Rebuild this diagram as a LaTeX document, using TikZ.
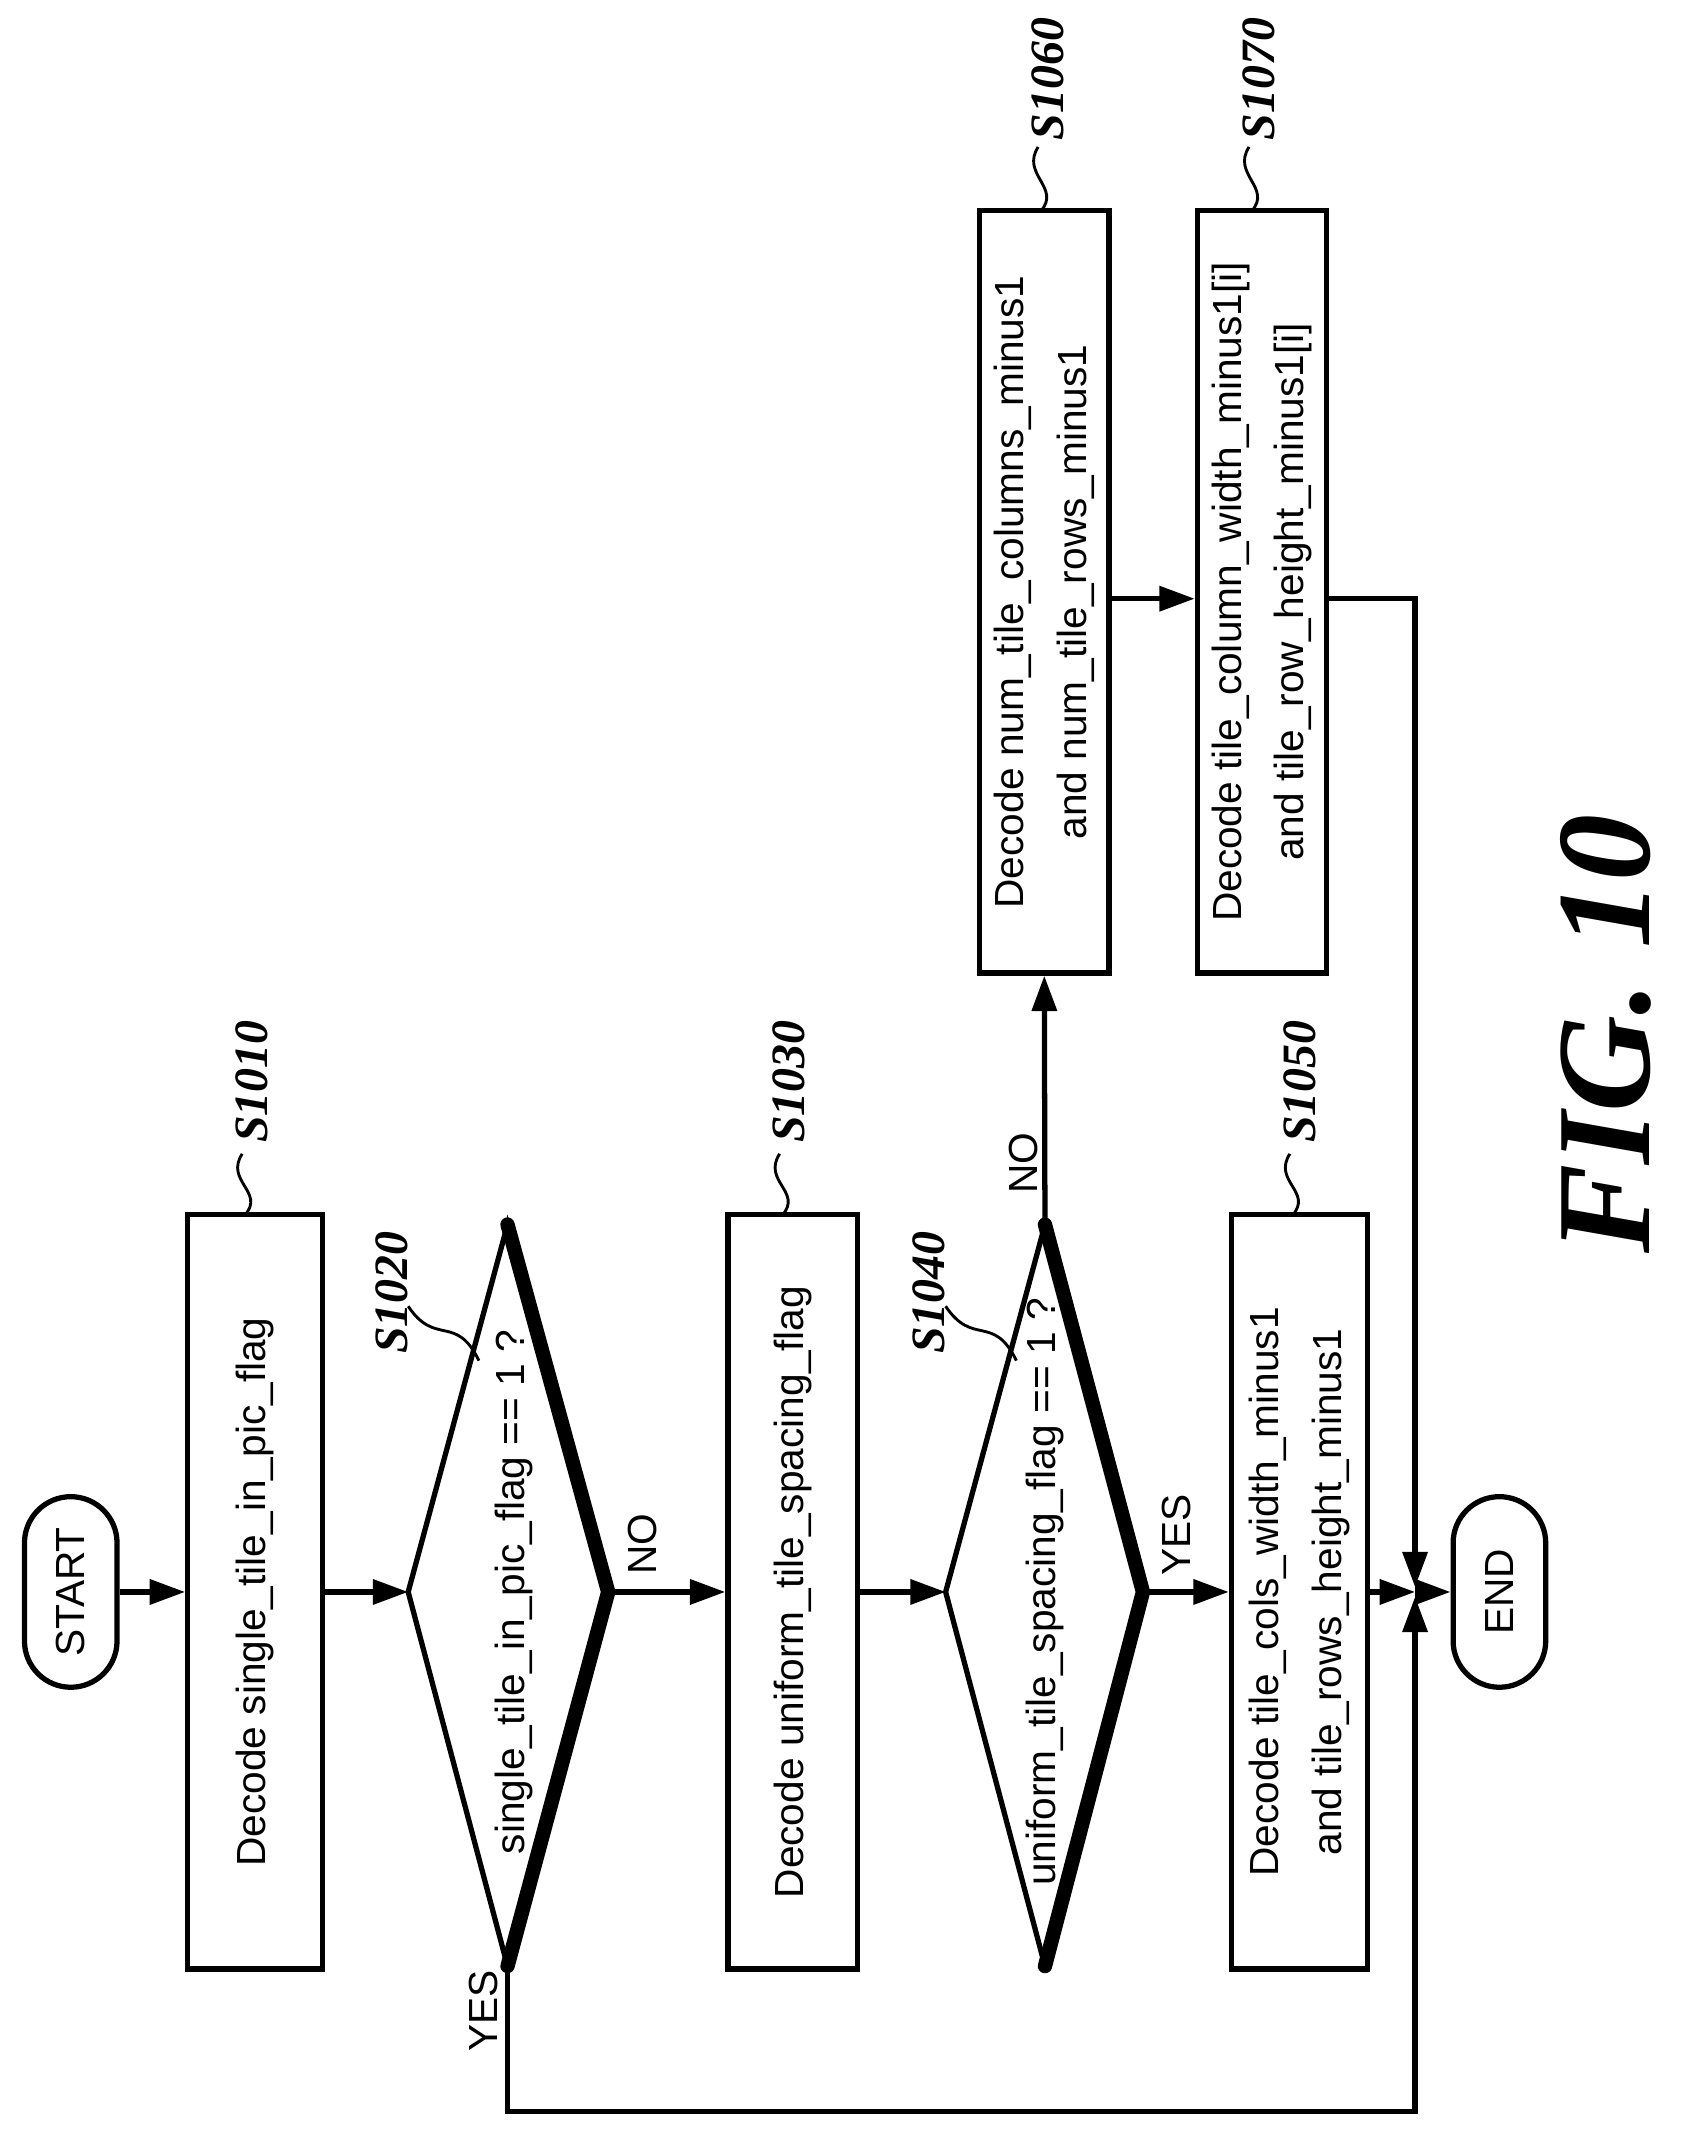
\documentclass[tikz,border=0pt]{standalone}
\usepackage{fontspec}
\setmainfont{Liberation Sans}
\newfontfamily\lblfont{Liberation Serif}
\usetikzlibrary{arrows.meta}
\begin{document}
\begin{tikzpicture}[x=0.01cm,y=-0.01cm,line width=1.1pt,
  box/.style={draw,rotate=90,inner sep=0pt,align=center,font=\fontsize{8.5}{13}\selectfont},
  term/.style={draw,rotate=90,minimum width=1.4cm,minimum height=0.68cm,rounded corners=0.34cm,inner sep=0pt,font=\fontsize{8.5}{11}\selectfont},
  txt/.style={rotate=90,font=\fontsize{8.5}{11}\selectfont},
  slabel/.style={rotate=90,font=\lblfont\bfseries\itshape\fontsize{10}{12}\selectfont},
  arr/.style={-{Triangle[length=2.6mm,width=1.8mm]}},
  heavy/.style={line width=3pt,line cap=round}]
\useasboundingbox (0,0) rectangle (1240,1575);
% terminals
\node[term] (start) at (52,1170) {START};
\node[term] (end) at (1102,1170) {END};
% boxes
\node[box,minimum width=5.54cm,minimum height=0.99cm] (s1010) at (187.5,1170) {Decode single\_tile\_in\_pic\_flag};
\node[box,minimum width=5.54cm,minimum height=0.95cm] (s1030) at (582.5,1170) {Decode uniform\_tile\_spacing\_flag};
\node[box,minimum width=5.54cm,minimum height=1.0cm] (s1050) at (955,1170) {Decode tile\_cols\_width\_minus1\\and tile\_rows\_height\_minus1};
\node[box,minimum width=5.6cm,minimum height=0.95cm] (s1060) at (767.5,435) {Decode num\_tile\_columns\_minus1\\and num\_tile\_rows\_minus1};
\node[box,minimum width=5.6cm,minimum height=0.95cm] (s1070) at (927.5,435) {Decode tile\_column\_width\_minus1[i]\\and tile\_row\_height\_minus1[i]};
% diamonds
\coordinate (d1t) at (373,900); \coordinate (d1r) at (447,1170);
\coordinate (d1b) at (373,1445); \coordinate (d1l) at (300,1170);
\draw (d1r) -- (d1t) -- (d1l) -- (d1b);
\draw[heavy] (d1t) -- (d1r) -- (d1b);
\node[txt] (d1) at (378,1170) {single\_tile\_in\_pic\_flag == 1 ?};
\coordinate (d2t) at (768,900); \coordinate (d2r) at (840,1170);
\coordinate (d2b) at (768,1445); \coordinate (d2l) at (695,1170);
\draw (d2r) -- (d2t) -- (d2l) -- (d2b);
\draw[heavy] (d2t) -- (d2r) -- (d2b);
\node[txt] (d2) at (768,1170) {uniform\_tile\_spacing\_flag == 1 ?};
% merge
\coordinate (m) at (1040,1170);
\coordinate (c1) at (1040,440);
\coordinate (c2) at (373,1552);
\coordinate (c3) at (1040,1552);
% connectors
\draw[arr] (start.south) -- (s1010.north);
\draw[arr] (s1010.south) -- (d1l);
\draw[arr] (d1r) -- (s1030.north);
\draw[arr] (s1030.south) -- (d2l);
\draw[arr] (d2r) -- (s1050.north);
\draw[arr] (d2t) -- (s1060.west);
\draw[arr] (s1060.south |- c1) -- (s1070.north |- c1);
\draw[arr] (s1050.south) -- (m);
\draw[arr] (s1070.south |- c1) -- (c1) -- ([yshift=1pt]m);
\draw[arr] (d1b) -- (c2) -- (c3) -- ([yshift=-1pt]m);
\draw[arr] (m) -- (end.north);
% branch labels
\node[txt] (no1) at (472,1135) {NO};
\node[txt] (yes2) at (865,1128) {YES};
\node[txt] (no2) at (752,855) {NO};
\node[txt] (yes1) at (355,1478) {YES};
% step labels
\node[slabel] (l1010) at (185,795) {S1010};
\draw[line width=0.6pt] (178,848) .. controls (165,868) and (195,876) .. (180,893);
\node[slabel] (l1030) at (580,795) {S1030};
\draw[line width=0.6pt] (573,848) .. controls (560,868) and (590,876) .. (575,893);
\node[slabel] (l1050) at (955,795) {S1050};
\draw[line width=0.6pt] (948,848) .. controls (935,868) and (965,876) .. (950,893);
\node[slabel] (l1060) at (770,58) {S1060};
\draw[line width=0.6pt] (763,108) .. controls (750,128) and (780,138) .. (765,155);
\node[slabel] (l1070) at (925,58) {S1070};
\draw[line width=0.6pt] (918,108) .. controls (905,128) and (935,138) .. (920,155);
\node[slabel] (l1020) at (288,950) {S1020};
\draw[line width=0.6pt] (300,960) .. controls (320,990) and (335,965) .. (352,1000);
\node[slabel] (l1040) at (683,950) {S1040};
\draw[line width=0.6pt] (695,960) .. controls (715,990) and (730,965) .. (747,1000);
% figure title
\node[rotate=90,font=\lblfont\bfseries\itshape\fontsize{28}{32}\selectfont] (fig) at (1180,760) {FIG. 10};
\end{tikzpicture}
\end{document}
